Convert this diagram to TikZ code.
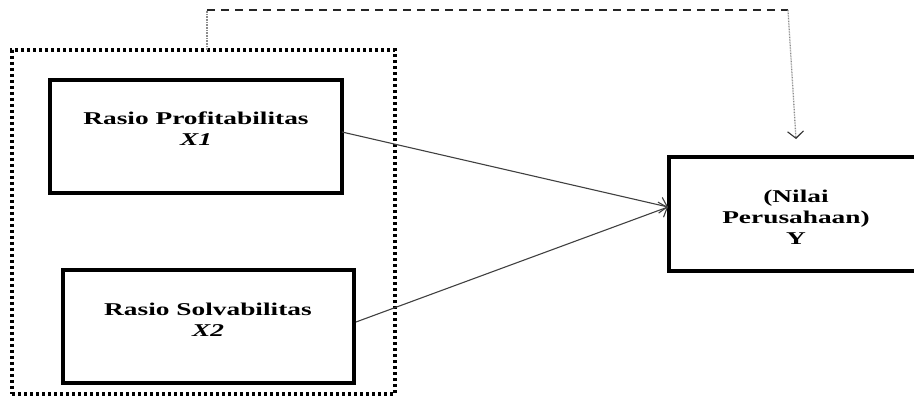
\documentclass[tikz,border=0pt]{standalone}
\usepackage{fontspec}
\newfontfamily\tnr[FakeStretch=1.52]{Liberation Serif}
\usetikzlibrary{arrows.meta}
\tikzset{
  varbox/.style={draw=black, line width=4pt, rectangle, inner sep=0pt},
  grpbox/.style={draw=black, line width=3.6pt, dash pattern=on 3.4pt off 2.6pt, rectangle, inner sep=0pt},
  lbl/.style={font=\tnr\fontsize{18}{21}\selectfont\bfseries, align=center, inner sep=0pt},
  arrowline/.style={draw=black!75, line width=1.1pt, -{Straight Barb[length=7pt,width=16pt,line width=1.1pt]}},
  dotline/.style={draw=black!45, line width=1.3pt, dash pattern=on 0.8pt off 0.8pt},
  dashline/.style={draw=black!85, line width=1.1pt, dash pattern=on 8pt off 6pt}
}
\begin{document}
\begin{tikzpicture}[x=1pt,y=-1pt]
\useasboundingbox (0,0) rectangle (914,396);
% group box
\node[grpbox, minimum width=383pt, minimum height=344pt] (grp) at (203.5,222) {};
% variable boxes
\node[varbox, minimum width=292pt, minimum height=113pt] (x1) at (196,136.5) {};
\node[varbox, minimum width=291pt, minimum height=113pt] (x2) at (208.5,326.5) {};
\node[varbox, minimum width=254pt, minimum height=114pt] (y) at (796,214) {};
% labels
\node[lbl] (x1t) at (196,129) {Rasio Profitabilitas\\\itshape X1};
\node[lbl] (x2t) at (208,320) {Rasio Solvabilitas\\\itshape X2};
\node[lbl] (yt) at (796,217) {(Nilai\\Perusahaan)\\Y};
% connector points
\coordinate (yin) at (668,207);
\coordinate (s1) at (342,132);
\coordinate (s2) at (356,322);
\coordinate (g0) at (207,50);
\coordinate (g1) at (207,10);
\coordinate (g2) at (788,10);
\coordinate (g3) at (796,139);
\draw[arrowline] (s1) -- (yin);
\draw[arrowline] (s2) -- (yin);
\draw[dotline] (g0) -- (g1);
\draw[dashline] (g1) -- (g2);
\draw[dotline, -{Straight Barb[length=7pt,width=16pt,line width=1.1pt,color=black!80]}] (g2) -- (g3);
\end{tikzpicture}
\end{document}
